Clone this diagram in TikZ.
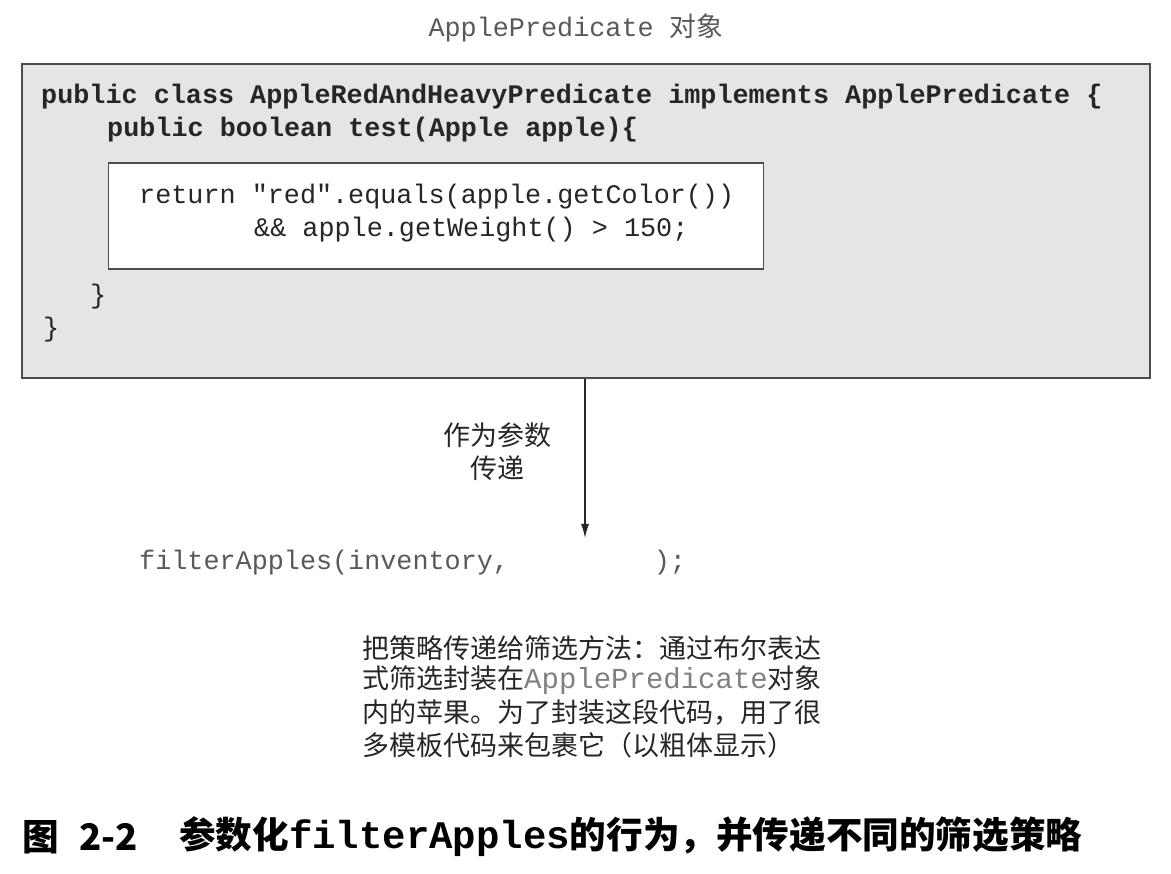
\documentclass[tikz,border=0pt]{standalone}
\usepackage{fontspec}
\setmonofont{Liberation Mono}
\newfontfamily\cjk{Noto Sans CJK SC}
\usetikzlibrary{arrows.meta,positioning}
\definecolor{boxgray}{gray}{0.9}
\definecolor{edgegray}{gray}{0.3}
\definecolor{ink}{gray}{0.15}
\definecolor{softink}{gray}{0.35}
\newcommand{\codesize}{\fontsize{26.8}{32}\selectfont}
\newcommand{\notesize}{\fontsize{27}{33}\selectfont}
\newcommand{\capsize}{\fontsize{36.6}{40}\selectfont}

\begin{document}
\begin{tikzpicture}[x=1pt,y=-1pt,
  boldcode/.style={anchor=west,inner sep=0pt,text=ink,font=\ttfamily\bfseries\codesize},
  plaincode/.style={anchor=west,inner sep=0pt,text=ink,font=\ttfamily\codesize},
  note/.style={anchor=west,inner sep=0pt,text=ink,font=\cjk\notesize},
  capline/.style={anchor=west,inner sep=0pt,text=black,font=\cjk\bfseries\capsize}]
  \useasboundingbox (0,0) rectangle (1171,874);
  \node[inner sep=0pt,text=softink,font=\codesize] (title) at (576,28) {\ttfamily ApplePredicate {\cjk 对象}};
  % the object and its method body
  \node[draw=edgegray,line width=2pt,fill=boxgray,minimum width=1128pt,minimum height=314pt] (obj) at (586,221) {};
  \node[draw=edgegray,line width=1.6pt,fill=white,minimum width=655pt,minimum height=106pt] (body) at (436,216) {};
  \node[boldcode] (head) at (41,97) {public class AppleRedAndHeavyPredicate implements ApplePredicate \{};
  \node[boldcode] (meth) at (107,130) {public boolean test(Apple apple)\{};
  \node[plaincode] (ret) at (139,197) {return "red".equals(apple.getColor())};
  \node[plaincode] (cond) at (254,230) {\&\& apple.getWeight() > 150;};
  \node[plaincode] (close1) at (90,297) {\}};
  \node[plaincode] (close2) at (43,330) {\}};
  % passing it on
  \coordinate (gap) at (585,538);
  \draw[-{Latex[length=14pt,width=8pt]},line width=1.3pt,ink] (obj.south -| gap) -- (gap);
  \node[inner sep=0pt,align=center,text=ink,font=\cjk\notesize] (pass) at (497,452) {作为参数\\传递};
  \node[plaincode,text=softink] (call) at (139,563) {filterApples(inventory,\ \ \ \ \ \ \ \ \ );};
  \node[note] (note1) at (362,648) {把策略传递给筛选方法：通过布尔表达};
  \node[note] (note2) at (362,680) {式筛选封装在{\ttfamily\fontsize{29}{33}\selectfont\color{gray}ApplePredicate}对象};
  \node[note] (note3) at (362,713) {内的苹果。为了封装这段代码，用了很};
  \node[note] (note4) at (362,745) {多模板代码来包裹它（以粗体显示）};
  % caption
  \node[capline] (cap1) at (22,837) {图};
  \node[capline] (cap2) at (79,837) {2-2};
  \node[capline] (cap3) at (179,837) {参数化{\ttfamily\bfseries\fontsize{39}{40}\selectfont filterApples}的行为，并传递不同的筛选策略};
\end{tikzpicture}
\end{document}
